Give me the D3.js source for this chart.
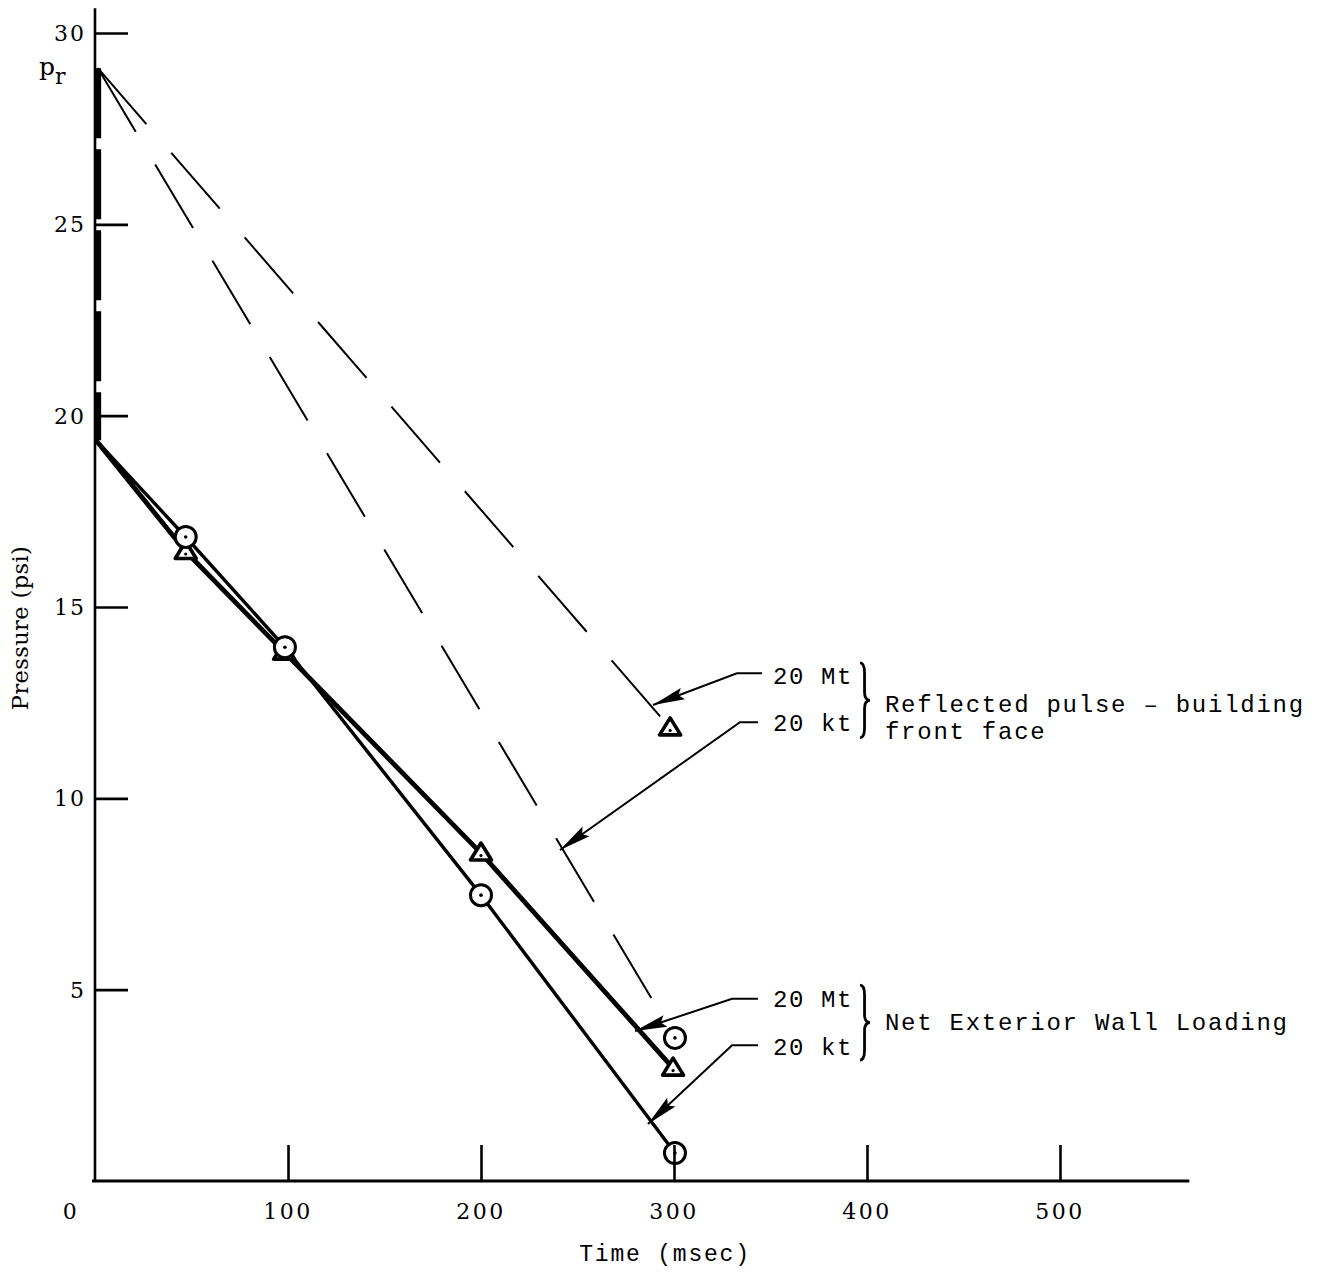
<!DOCTYPE html>
<html>
<head>
<meta charset="utf-8">
<script src="https://cdn.jsdelivr.net/npm/d3@7"></script>
<style>
  html, body { margin: 0; padding: 0; background: #fff; }
  svg { display: block; }
</style>
</head>
<body>
<svg id="chart" width="1318" height="1272"></svg>
<script>
// ---------- data (time in msec, pressure in psi) ----------
const xTickValues = [100, 200, 300, 400, 500];
const xTickLabels = ["0", "100", "200", "300", "400", "500"];
const yTickValues = [5, 10, 15, 20, 25, 30];

// instantaneous rise at the front face
const riseTime = 1.5;
const risePressure = [19.36, 29.08];

// reflected pulse - building front face (dashed)
const refl20MtTime = [1.5, 298];
const refl20MtP    = [29.08, 11.84];
const refl20ktTime = [1.5, 300.5];
const refl20ktP    = [29.08, 3.74];

// net exterior wall loading (solid)
const net20MtTime = [0.5, 47, 98, 200, 299.5];
const net20MtP    = [19.36, 16.45, 13.82, 8.57, 2.95];
const net20ktTime = [0.5, 47, 98.4, 200, 300.5];
const net20ktP    = [19.36, 16.83, 13.95, 7.47, 0.73];

// annotation text
const annLabels = ["20 Mt", "20 kt", "20 Mt", "20 kt"];
const groupLabels = [["Reflected pulse \u2013 building", "front face"], ["Net Exterior Wall Loading"]];

// ---------- scales ----------
const svg = d3.select("#chart");
const x = d3.scaleLinear().domain([0, 567]).range([95, 1189.3]);
const y = d3.scaleLinear().domain([0, 30]).range([1181, 33]);

const zip = (ts, ps) => ts.map((t, i) => ({t, p: ps[i]}));
const line = d3.line().x(d => x(d.t)).y(d => y(d.p));

const monoFont = "'Liberation Mono', 'DejaVu Sans Mono', monospace";
const serifFont = "'DejaVu Serif', 'Liberation Serif', serif";

// ---------- dashed reflected pulses ----------
[[refl20MtTime, refl20MtP], [refl20ktTime, refl20ktP]].forEach(([ts, ps]) => {
  svg.append("path")
    .attr("d", line(zip(ts, ps)))
    .attr("fill", "none").attr("stroke", "#000")
    .attr("stroke-width", 2).attr("stroke-dasharray", "74,38");
});

// ---------- thick dashed rise ----------
svg.append("path")
  .attr("d", line(zip([riseTime, riseTime], [risePressure[1], risePressure[0]])))
  .attr("fill", "none").attr("stroke", "#000")
  .attr("stroke-width", 6.5).attr("stroke-dasharray", "70,11");

// ---------- net loading lines ----------
svg.append("path")
  .attr("d", line(zip(net20ktTime, net20ktP)))
  .attr("fill", "none").attr("stroke", "#000")
  .attr("stroke-width", 3.4).attr("stroke-linejoin", "round");
svg.append("path")
  .attr("d", line(zip(net20MtTime, net20MtP)))
  .attr("fill", "none").attr("stroke", "#000")
  .attr("stroke-width", 4.8).attr("stroke-linejoin", "round");

// ---------- markers ----------
function triangle(g, d) {
  const gg = g.append("g").attr("transform", `translate(${x(d.t)},${y(d.p)})`);
  gg.append("path").attr("d", "M0,-10 L10.5,7 L-10.5,7 Z")
    .attr("fill", "#fff").attr("stroke", "#000").attr("stroke-width", 3.6)
    .attr("stroke-linejoin", "round");
  gg.append("circle").attr("cx", 0).attr("cy", 2.5).attr("r", 1.6).attr("fill", "#000");
}
function ring(g, d) {
  const gg = g.append("g").attr("transform", `translate(${x(d.t)},${y(d.p)})`);
  gg.append("circle").attr("r", 10.5)
    .attr("fill", "#fff").attr("stroke", "#000").attr("stroke-width", 3);
  gg.append("circle").attr("r", 1.8).attr("fill", "#000");
}
const mk = svg.append("g");
zip(net20MtTime, net20MtP).slice(1).forEach(d => triangle(mk, d));
zip(net20ktTime, net20ktP).slice(1).forEach(d => ring(mk, d));
triangle(mk, zip(refl20MtTime, refl20MtP)[1]);
ring(mk, zip(refl20ktTime, refl20ktP)[1]);

// ---------- axes ----------
const yAxis = d3.axisRight(y).tickValues(yTickValues).tickSize(33).tickFormat("");
const yg = svg.append("g").attr("transform", `translate(${x(0)},0)`).call(yAxis);
yg.select(".domain").remove();
yg.selectAll(".tick line").attr("stroke", "#000").attr("stroke-width", 2.6);

const xAxis = d3.axisTop(x).tickValues(xTickValues).tickSize(36).tickFormat("");
const xg = svg.append("g").attr("transform", `translate(0,${y(0)})`).call(xAxis);
xg.select(".domain").remove();
xg.selectAll(".tick line").attr("stroke", "#000").attr("stroke-width", 2.6);

// axis lines
svg.append("line").attr("x1", x(0)).attr("x2", x(0)).attr("y1", y(30.65)).attr("y2", y(0) + 1)
  .attr("stroke", "#000").attr("stroke-width", 2.6);
svg.append("line").attr("x1", x(0) - 3).attr("x2", x(567)).attr("y1", y(0)).attr("y2", y(0))
  .attr("stroke", "#000").attr("stroke-width", 3);

// tick labels
svg.append("g").selectAll("text").data(yTickValues).join("text")
  .attr("x", x(0) - 9).attr("y", d => y(d)).attr("dy", "0.36em")
  .attr("text-anchor", "end").attr("font-family", serifFont).attr("font-size", 22)
  .attr("letter-spacing", 2)
  .text(d => d);

svg.append("g").selectAll("text").data([0, ...xTickValues]).join("text")
  .attr("x", (d, i) => i === 0 ? x(0) - 24 : x(d)).attr("y", 1219)
  .attr("text-anchor", "middle").attr("font-family", serifFont).attr("font-size", 22)
  .attr("letter-spacing", 2.5)
  .text((d, i) => xTickLabels[i]);

// axis titles
svg.append("text").attr("x", 665).attr("y", 1261).attr("text-anchor", "middle")
  .attr("font-family", monoFont).attr("font-size", 23).attr("letter-spacing", 1.8)
  .text("Time (msec)");
svg.append("text").attr("transform", "translate(28,628) rotate(-90)").attr("text-anchor", "middle")
  .attr("font-family", serifFont).attr("font-size", 22.5).attr("letter-spacing", 0.4)
  .text("Pressure (psi)");

// p_r label
const pr = svg.append("text").attr("x", 39).attr("y", y(28.9)).attr("font-family", serifFont).attr("font-size", 25);
pr.append("tspan").text("p");
pr.append("tspan").attr("dy", 9).attr("font-size", 22).text("r");

// ---------- annotations (data-unit anchors) ----------
const arrows = [
  {start: [345.6, 13.27], elbow: [332.6, 13.27], tip: [289.1, 12.44]},
  {start: [343.5, 11.99], elbow: [334.2, 11.99], tip: [240.9, 8.65]},
  {start: [343.5, 4.76],  elbow: [330.1, 4.76],  tip: [279.8, 3.92]},
  {start: [343.5, 3.55],  elbow: [330.1, 3.55],  tip: [286.5, 1.49]}
];
const ann = svg.append("g");
arrows.forEach(a => {
  const [sx, sy] = [x(a.start[0]), y(a.start[1])];
  const [ex, ey] = [x(a.elbow[0]), y(a.elbow[1])];
  const [tx, ty] = [x(a.tip[0]), y(a.tip[1])];
  ann.append("path").attr("d", `M${sx},${sy} L${ex},${ey} L${tx},${ty}`)
    .attr("fill", "none").attr("stroke", "#000").attr("stroke-width", 2);
  const dx = ex - tx, dy = ey - ty, L = Math.hypot(dx, dy);
  const ux = dx / L, uy = dy / L, len = 32, hw = 6;
  const bx = tx + ux * len, by = ty + uy * len;
  ann.append("path")
    .attr("d", `M${tx},${ty} L${bx - uy * hw},${by + ux * hw} L${tx + ux * len * 0.85},${ty + uy * len * 0.85} L${bx + uy * hw},${by - ux * hw} Z`)
    .attr("fill", "#000");
});

const labelT = 351.3;
const labelBase = [12.99, 11.76, 4.55, 3.29];
ann.selectAll("text.lab").data(annLabels).join("text")
  .attr("x", x(labelT)).attr("y", (d, i) => y(labelBase[i]))
  .attr("font-family", monoFont).attr("font-size", 24).attr("letter-spacing", 1.6)
  .text(d => d);

// braces
function brace(xb, y1, y2) {
  const ym = (y1 + y2) / 2, w = 4.5;
  return `M${xb},${y1} Q${xb + w},${y1} ${xb + w},${y1 + 10} L${xb + w},${ym - 8} Q${xb + w},${ym} ${xb + 2.2 * w},${ym}` +
         ` Q${xb + w},${ym} ${xb + w},${ym + 8} L${xb + w},${y2 - 10} Q${xb + w},${y2} ${xb},${y2}`;
}
const braceT = 396.4;
[[13.54, 11.58], [5.12, 3.16]].forEach(([a, b]) => {
  ann.append("path").attr("d", brace(x(braceT), y(a), y(b)))
    .attr("fill", "none").attr("stroke", "#000").attr("stroke-width", 2.8);
});

const groupT = 409.3;
const groupBase = [[12.25, 11.55], [3.95]];
groupLabels.forEach((lines, gi) => {
  lines.forEach((txt, li) => {
    ann.append("text").attr("x", x(groupT)).attr("y", y(groupBase[gi][li]))
      .attr("font-family", monoFont).attr("font-size", 24).attr("letter-spacing", 1.75)
      .text(txt);
  });
});
</script>
</body>
</html>
